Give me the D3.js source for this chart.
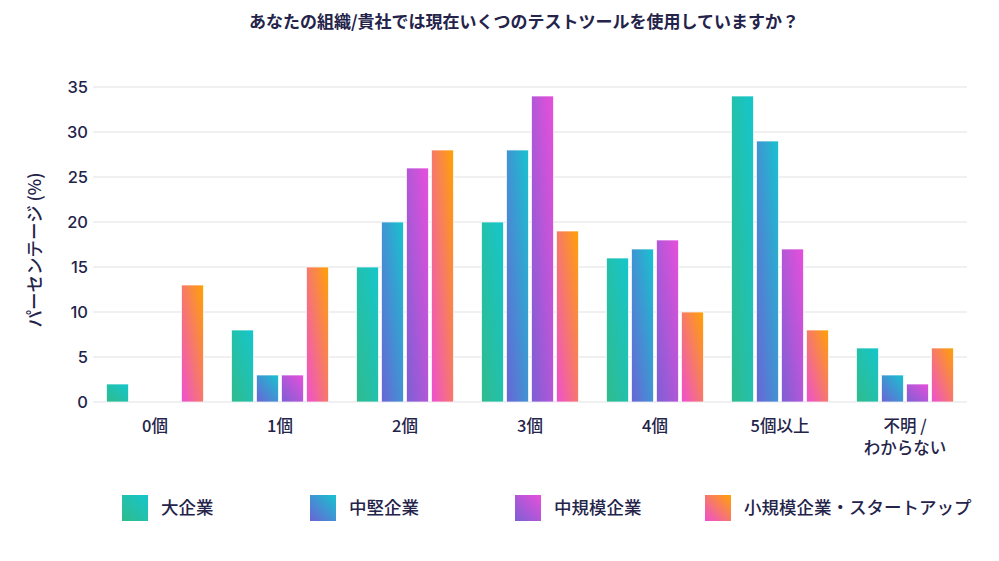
<!DOCTYPE html>
<html>
<head>
<meta charset="utf-8">
<script src="https://cdn.jsdelivr.net/npm/d3@7"></script>
<style>
  body { margin: 0; background: #fff; }
  text { font-family: "Noto Sans CJK JP", "Noto Sans", sans-serif; fill: #24234a; }
</style>
</head>
<body>
<svg id="chart" width="999" height="561"></svg>
<script>
// カテゴリ・系列
var categories = ["0個", "1個", "2個", "3個", "4個", "5個以上", "不明 /\nわからない"];
var seriesNames = ["大企業", "中堅企業", "中規模企業", "小規模企業・スタートアップ"];
var largeCo   = [2, 8, 15, 20, 16, 34, 6];
var midLarge  = [0, 3, 20, 28, 17, 29, 3];
var midSize   = [0, 3, 26, 34, 18, 17, 2];
var smallCo   = [13, 15, 28, 19, 10, 8, 6];
var yTicks = [0, 5, 10, 15, 20, 25, 30, 35];

var seriesValues = [largeCo, midLarge, midSize, smallCo];
// グラデーション 左下 -> 右上
var gradColors = [
  ["#30bb8c", "#15c6cc"],
  ["#6a64d6", "#17c3cf"],
  ["#7c5fd4", "#e84fdb"],
  ["#ee4fd2", "#ffa203"]
];

var svg = d3.select("#chart");
var defs = svg.append("defs");

gradColors.forEach(function(c, i){
  var g = defs.append("linearGradient")
    .attr("id", "grad" + i)
    .attr("x1", 0).attr("y1", 1)
    .attr("x2", 1).attr("y2", 0);
  g.append("stop").attr("offset", "0%").attr("stop-color", c[0]);
  g.append("stop").attr("offset", "100%").attr("stop-color", c[1]);
});

var plotLeft = 92.5, plotRight = 967.5, plotTop = 87, plotBottom = 402;

var x0 = d3.scaleBand()
  .domain(categories)
  .range([plotLeft, plotRight])
  .paddingInner(0.224)
  .paddingOuter(0.112);

var x1 = d3.scaleBand()
  .domain(d3.range(seriesNames.length))
  .range([0, x0.bandwidth()])
  .paddingInner(0.12);

var y = d3.scaleLinear().domain([0, 35]).range([plotBottom, plotTop]);

// グリッド線
svg.append("g")
  .selectAll("line")
  .data(yTicks)
  .enter()
  .append("line")
  .attr("x1", 93).attr("x2", 967)
  .attr("y1", function(d){ return y(d); })
  .attr("y2", function(d){ return y(d); })
  .attr("stroke", "#e2e2e8")
  .attr("stroke-width", 1.2);

// y軸ラベル
var yAxis = svg.append("g")
  .attr("transform", "translate(91,0)")
  .call(d3.axisLeft(y).tickValues(yTicks).tickSize(0).tickPadding(3));
yAxis.select(".domain").remove();
yAxis.selectAll("text")
  .style("font-size", "16.5px")
  .style("font-weight", "500")
  .attr("fill", "#24234a")
  .style("font-family", "Inter, 'Noto Sans', sans-serif");

svg.append("text")
  .attr("transform", "translate(41,250) rotate(-90)")
  .attr("text-anchor", "middle")
  .style("font-size", "17.5px")
  .style("font-weight", "500")
  .text("パーセンテージ (%)");

// 棒（0の値は描かない）
svg.append("g")
  .selectAll("g")
  .data(categories)
  .enter()
  .append("g")
  .attr("transform", function(d){ return "translate(" + x0(d) + ",0)"; })
  .selectAll("rect")
  .data(function(cat, ci){
    return seriesValues.map(function(s, si){ return {v: s[ci], s: si}; })
      .filter(function(d){ return d.v > 0; });
  })
  .enter()
  .append("rect")
  .attr("x", function(d){ return x1(d.s); })
  .attr("width", x1.bandwidth())
  .attr("y", function(d){ return y(d.v); })
  .attr("height", function(d){ return y(0) - y(d.v); })
  .attr("fill", function(d){ return "url(#grad" + d.s + ")"; })
  .attr("stroke", "rgba(255,255,255,0.7)")
  .attr("stroke-width", 1);

// x軸ラベル
svg.append("g")
  .selectAll("text")
  .data(categories)
  .enter()
  .append("text")
  .attr("text-anchor", "middle")
  .style("font-size", "16.5px")
  .style("font-weight", "500")
  .attr("x", function(d){ return x0(d) + x0.bandwidth() / 2; })
  .attr("y", 432)
  .each(function(d){
    var lines = d.split("\n");
    d3.select(this).selectAll("tspan")
      .data(lines)
      .enter()
      .append("tspan")
      .attr("x", x0(d) + x0.bandwidth() / 2)
      .attr("dy", function(l, i){ return i == 0 ? 0 : 22; })
      .text(function(l){ return l; });
  });

// タイトル
svg.append("text")
  .attr("x", 524)
  .attr("y", 28)
  .attr("text-anchor", "middle")
  .style("font-size", "17px")
  .style("font-weight", "bold")
  .text("あなたの組織/貴社では現在いくつのテストツールを使用していますか？");

// 凡例
var legendX = [122, 310, 515, 705];
var legend = svg.append("g")
  .selectAll("g")
  .data(seriesNames)
  .enter()
  .append("g")
  .attr("transform", function(d, i){ return "translate(" + legendX[i] + ",495)"; });
legend.append("rect")
  .attr("width", 26).attr("height", 26)
  .attr("fill", function(d, i){ return "url(#grad" + i + ")"; });
legend.append("text")
  .attr("x", 39).attr("y", 19)
  .style("font-size", "17.5px")
  .style("font-weight", "500")
  .text(function(d){ return d; });
</script>
</body>
</html>
